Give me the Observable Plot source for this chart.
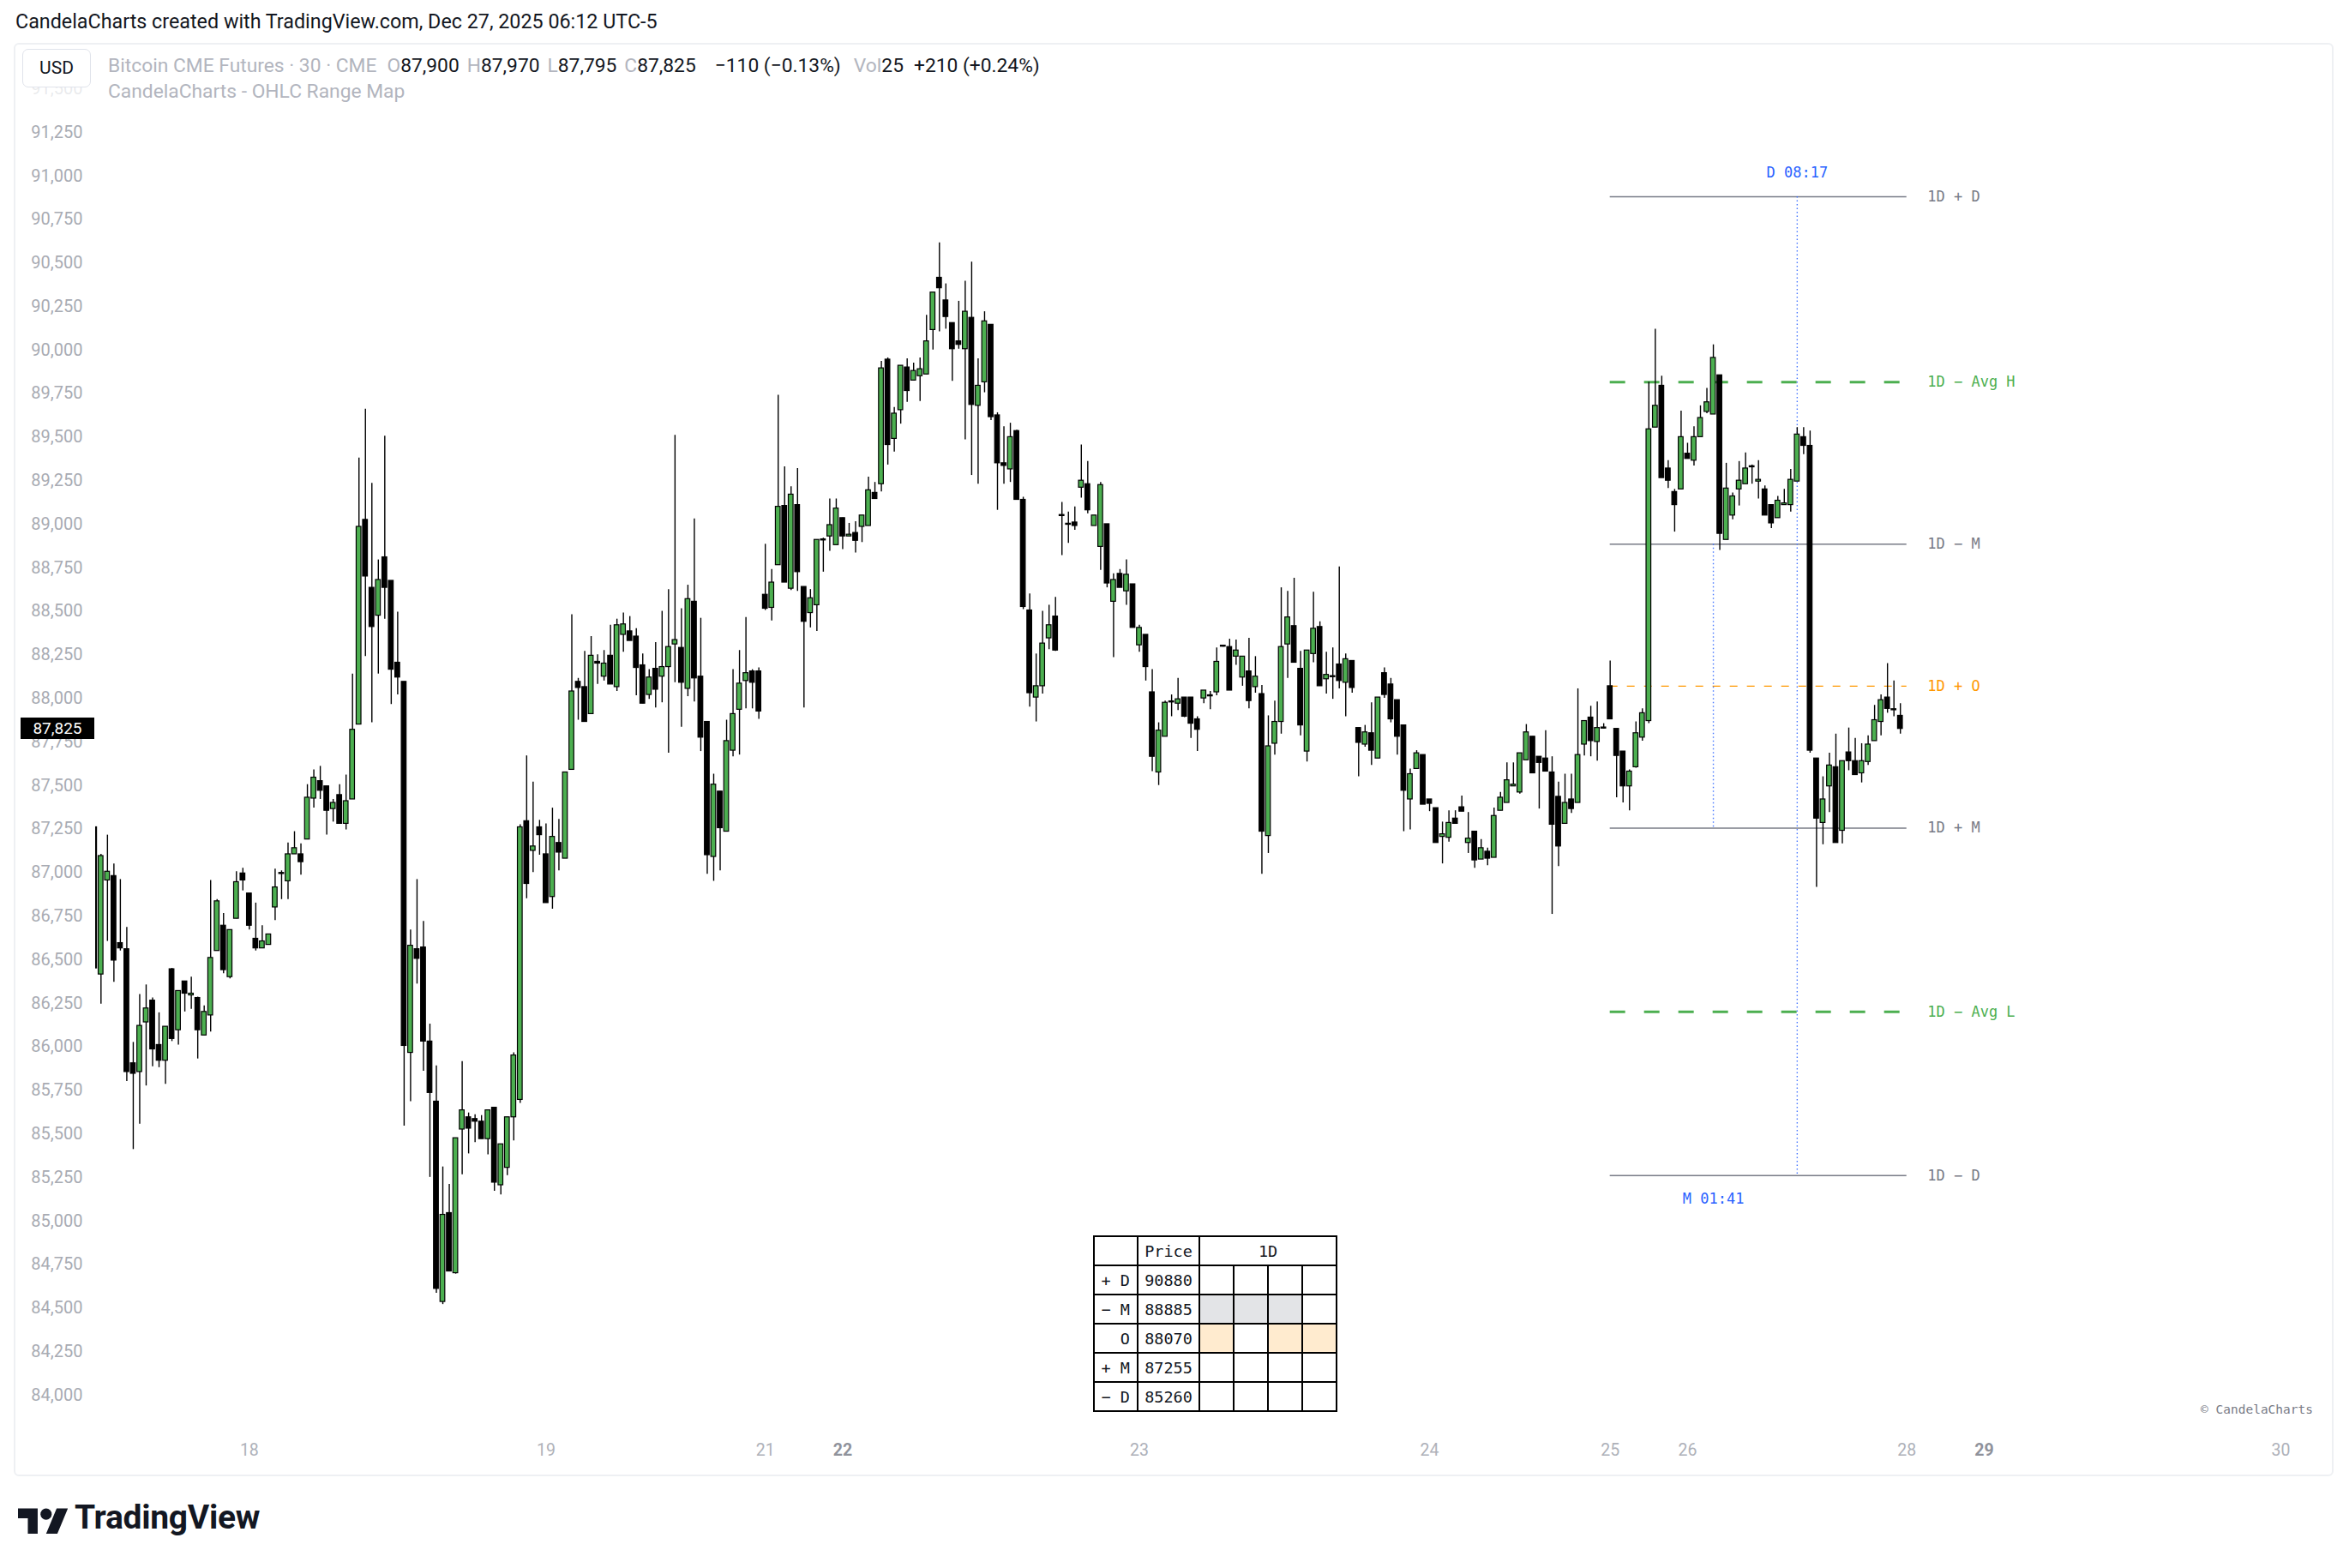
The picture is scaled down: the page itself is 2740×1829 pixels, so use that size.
<!DOCTYPE html>
<html><head><meta charset="utf-8">
<script src="https://cdn.jsdelivr.net/npm/d3@7"></script>
<script src="https://cdn.jsdelivr.net/npm/@observablehq/plot@0.6"></script>
<style>
html,body{margin:0;padding:0;background:#fff;}
#page{position:relative;width:2740px;height:1829px;overflow:hidden;font-family:Roboto,"Liberation Sans",sans-serif;color:#131722;}
#title{position:absolute;left:18px;top:12px;font-size:23.3px;line-height:27px;white-space:nowrap;}
#pane{position:absolute;left:16px;top:50px;width:2702px;height:1668px;border:2px solid #eef0f3;border-radius:6px;}
#chart{position:absolute;left:0;top:0;}
#usd{position:absolute;left:26px;top:57px;width:78px;height:43px;border:1px solid #e0e3eb;border-radius:7px;background:#fff;font-size:21px;line-height:43px;text-align:center;}
#legend{position:absolute;left:126px;top:63px;font-size:22.8px;line-height:28px;white-space:nowrap;}
#legend2{position:absolute;left:126px;top:93px;font-size:22.8px;line-height:28px;white-space:nowrap;color:#b2b5be;}
.g{color:#b2b5be;}
#pricebox{position:absolute;left:24px;width:86px;height:25px;background:#000;color:#fff;font-size:19px;line-height:25px;text-align:center;}
#copy{position:absolute;right:42px;top:1635px;font-family:"DejaVu Sans Mono",monospace;font-size:14.5px;line-height:18px;color:#787b86;}
#tbl{position:absolute;left:1275px;top:1441px;border-collapse:collapse;table-layout:fixed;width:283px;font-family:"DejaVu Sans Mono",monospace;font-size:18.5px;color:#131722;background:#fff;}
#tbl td{border:2px solid #000;height:32px;padding:0;text-align:center;}
#tbl td.lab{text-align:right;padding-right:8px;}
#logo{position:absolute;left:21px;top:1753px;}
#logotext{position:absolute;left:87px;top:1748px;font-size:39px;line-height:44px;font-weight:700;color:#131722;letter-spacing:-0.3px;}
</style></head>
<body><div id="page">
<div id="title">CandelaCharts created with TradingView.com, Dec 27, 2025 06:12 UTC-5</div>
<div id="pane"></div>
<div id="chart"></div>
<div id="usd">USD</div>
<div id="legend"></div>
<div id="legend2">CandelaCharts - OHLC Range Map</div>
<div id="pricebox"></div>
<table id="tbl"></table>
<div id="copy">© CandelaCharts</div>
<svg id="logo" width="59" height="46" viewBox="0 0 36 28"><path d="M14 22H7V11H0V4h14v18zM28 22h-8l7.5-18h8L28 22z" fill="#131722"/><circle cx="20" cy="8" r="4" fill="#131722"/></svg>
<div id="logotext">TradingView</div>
</div>
<script>
// ---- candle data (30-minute bars, index = bar number) ----
const opens = [
87260,86415,86955,86980,86595,86560,85905,85855,86140,86265,
86010,85920,86445,86095,86375,86295,86280,86065,86180,86550,
86695,86400,86735,86995,86880,86620,86565,86585,86800,86995,
86950,87105,87105,87190,87425,87525,87495,87365,87445,87280,
87420,87850,89025,88635,88475,88810,88675,88205,88095,85965,
86560,86570,86030,85685,84535,85045,84700,85525,85595,85585,
85570,85470,85650,85205,85305,85595,85695,87295,87125,87260,
87105,86860,87170,87080,87590,88095,88065,87910,88210,88125,
88245,88065,88365,88385,88355,88190,88020,88170,88125,88180,
88310,88290,88055,88555,88125,87865,87090,87465,87235,87700,
87935,88100,88155,88155,88595,88520,88765,89105,88630,89110,
88640,88490,88535,88910,88930,88880,89035,88930,88950,88985,
88990,89180,89230,89945,89490,89655,89900,89825,89850,89860,
90115,90415,90285,90155,90050,90005,90185,89680,89815,90145,
89625,89350,89315,89535,89140,88505,88005,88070,88345,88470,
89050,89000,89010,89210,89230,88990,88870,89000,88555,88715,
88615,88655,88305,88365,88035,87575,87780,87980,87970,88005,
88005,87880,88000,88015,88035,88300,88295,88240,88120,88155,
88065,88025,87210,87740,87865,88310,88415,88170,87695,88255,
88410,88110,88125,88195,88090,88215,87830,87735,87800,87655,
88145,88080,87990,87845,87420,87595,87675,87420,87370,87205,
87200,87310,87375,87170,87235,87075,87120,87085,87355,87400,
87495,87460,87645,87780,87665,87655,87575,87435,87280,87420,
87400,87735,87890,87750,87830,88070,87825,87695,87495,87605,
87775,87870,89555,89795,89320,89185,89200,89405,89365,89500,
89645,89630,89855,88910,89050,89200,89230,89330,89245,89200,
89110,89035,89110,89110,89245,89500,89450,87655,87285,87495,
87605,87240,87690,87640,87570,87635,87755,87865,88005,87935,87900];
const highs = [
87275,87105,87215,87050,86960,86685,86025,86300,86355,86280,
86195,86115,86450,86320,86375,86400,86285,86235,86955,86845,
86765,86670,87005,87025,86880,86825,86695,86645,87020,87010,
87170,87235,87165,87505,87590,87610,87495,87420,87505,87560,
88140,89380,89660,89235,88795,89505,88675,88495,88095,86670,
86960,86720,86130,85890,85310,85210,85475,85915,85620,85610,
85605,85635,85650,85440,85595,85965,87275,87670,87520,87300,
87280,87370,87305,87575,88480,88115,88270,88355,88250,88275,
88420,88455,88490,88470,88400,88255,88165,88320,88500,88625,
89510,88515,88650,89030,88460,87865,87565,87465,87875,88165,
88275,88465,88165,88175,88885,88740,89740,89330,89215,89320,
88640,88625,88910,88920,89145,89145,89035,89005,89015,89050,
89270,89240,89935,89955,89670,89910,89950,89925,89955,90200,
90330,90615,90380,90155,90280,90395,90505,89950,90220,90145,
89640,89560,89580,89540,89155,88600,88255,88500,88535,88580,
89125,89070,89100,89455,89360,89050,89240,89000,88715,88740,
88795,88655,88420,88365,88165,87860,87985,88020,88115,88005,
88005,87895,88045,88040,88290,88300,88340,88335,88240,88345,
88240,88075,87900,87985,88635,88615,88690,88270,88275,88610,
88440,88265,88290,88755,88255,88215,87830,87845,87975,88005,
88175,88115,87990,87845,87595,87700,87675,87420,87370,87290,
87355,87355,87440,87345,87235,87190,87140,87370,87460,87630,
87630,87685,87850,87780,87665,87815,87665,87520,87565,87565,
88055,87870,87955,87980,87855,88215,87825,87695,87590,87865,
87940,89815,90120,89850,89365,89200,89650,89465,89560,89680,
89780,90030,89855,89350,89180,89360,89410,89340,89365,89220,
89110,89160,89200,89315,89555,89555,89535,87655,87550,87685,
87795,87640,87830,87770,87740,87785,87960,88020,88200,88100,87970];
const lows = [
86420,86245,86605,86370,86550,85800,85410,85555,85775,85885,
85880,85785,86030,86010,86200,86215,85930,86065,86085,86550,
86420,86390,86735,86895,86670,86550,86565,86585,86725,86845,
86845,87105,86985,87190,87370,87420,87215,87290,87280,87245,
87420,87850,88240,87860,88140,88455,87965,88020,85545,85685,
86360,85860,85250,84585,84520,84710,84695,85265,85385,85450,
85470,85380,85170,85150,85260,85460,85675,86850,87000,87100,
86825,86790,87010,87080,87590,87875,87865,87910,88080,88100,
88080,88040,88265,88330,88015,87970,87995,87945,87975,87685,
88090,87835,88010,87980,87695,86990,86950,87010,87235,87665,
87675,87940,87940,87880,88505,88445,88765,88665,88620,88615,
87945,88405,88385,88725,88845,88880,88855,88930,88835,88895,
88990,89145,89185,89340,89415,89575,89700,89825,89705,89860,
90000,90105,90120,89820,90005,89485,89280,89230,89755,89595,
89080,89230,89240,89140,88510,87950,87865,88025,88280,88270,
88820,88890,88965,89150,89060,88990,88735,88635,88235,88635,
88535,88405,88265,88100,87580,87500,87780,87895,87930,87890,
87770,87695,87970,87935,88015,88295,88045,88190,88070,87940,
88030,86990,87110,87675,87795,88115,88205,87785,87635,88205,
88070,88025,87995,88055,87895,88030,87550,87720,87615,87655,
88000,87860,87675,87235,87245,87595,87390,87350,87170,87050,
87175,87280,87350,87110,87025,87075,87040,87085,87355,87400,
87495,87450,87645,87570,87365,87580,86760,87035,87280,87340,
87400,87670,87665,87640,87825,87880,87430,87400,87355,87600,
87755,87855,89555,89265,89205,88955,89200,89375,89335,89500,
89635,89630,88850,88910,89025,89105,89230,89230,89145,89050,
88975,89035,89110,89070,89245,89400,87685,86915,87160,87345,
87170,87165,87585,87560,87515,87615,87755,87785,87915,87895,87795];
const closes = [
86450,87095,87005,86495,86565,85855,85845,86120,86220,85985,
85920,86115,86045,86320,86305,86305,86095,86200,86510,86835,
86440,86670,86945,86955,86695,86565,86605,86645,86915,86995,
87105,87140,87060,87430,87545,87470,87355,87400,87280,87410,
87820,88985,88700,88410,88680,88635,88165,88120,86005,86580,
86505,86030,85735,84610,85035,84710,85475,85635,85530,85570,
85470,85635,85220,85440,85595,85950,87260,86935,87150,87215,
86825,87205,87115,87575,88040,88060,87865,88245,88200,88200,
88080,88420,88425,88330,88175,87970,88120,88050,88180,88295,
88335,88090,88570,88115,87775,87100,87505,87255,87755,87910,
88085,88145,88090,87925,88515,88665,89100,88665,89170,88725,
88440,88575,88910,88910,88995,89090,88930,88940,88905,89050,
89195,89145,89895,89455,89635,89910,89765,89880,89890,90050,
90330,90355,90190,90005,90030,90220,89685,89795,90165,89615,
89350,89335,89500,89140,88525,88030,88070,88315,88420,88275,
89050,89000,88990,89250,89080,89050,89225,88660,88680,88635,
88710,88405,88405,88180,87665,87815,87975,87980,87995,87895,
87855,87820,88045,88015,88210,88300,88045,88275,88240,87985,
88125,87235,87725,87865,88295,88465,88205,87845,88275,88400,
88070,88135,88125,88100,88225,88060,87745,87805,87700,88005,
88020,87880,87780,87470,87565,87685,87390,87395,87170,87220,
87285,87280,87350,87195,87070,87140,87080,87325,87430,87530,
87505,87685,87805,87570,87630,87580,87275,87150,87400,87365,
87675,87870,87755,87830,87830,87880,87670,87495,87580,87800,
87915,89545,89680,89265,89250,89110,89500,89375,89500,89610,
89700,89955,88945,89205,89160,89250,89320,89330,89255,89050,
89005,89135,89120,89255,89515,89450,87700,87310,87420,87615,
87170,87640,87640,87560,87640,87735,87875,87990,87940,87935,87825];

// ---- axes ----
const yTicks = [84000,84250,84500,84750,85000,85250,85500,85750,86000,86250,86500,86750,87000,87250,87500,87750,88000,88250,88500,88750,89000,89250,89500,89750,90000,90250,90500,90750,91000,91250];
const yTickHidden = [91500];
const xTickIndex = [24,70,104,116,162,207,235,247,281,293,339];
const xTickText  = ["18","19","21","22","23","24","25","26","28","29","30"];
const xTickBold  = [false,false,false,true,false,false,false,false,false,true,false];

// ---- OHLC Range Map (1D) ----
const rangeNames  = ["1D + D","1D − Avg H","1D − M","1D + O","1D + M","1D − Avg L","1D − D"];
const rangeValues = [90880, 89815, 88885, 88070, 87255, 86200, 85260];
const rangeKind   = ["solid","avg","solid","open","solid","avg","solid"];
const rangeStart = 235, rangeEnd = 281;
const markerText  = ["D 08:17","M 01:41"];
const markerIndex = [264, 251];
const markerFrom  = [90880, 88885];
const markerTo    = [85260, 87255];
const markerLabelAt = [90880, 85260];
const markerSide  = ["above", "below"];

// ---- table ----
const tableRowLabels = ["+ D","− M","O","+ M","− D"];
const tablePrices = [90880, 88885, 88070, 87255, 85260];
const tableFills = [[0,0,0,0],[1,1,1,0],[2,0,2,2],[0,0,0,0],[0,0,0,0]];

// ---- header values ----
const volume = 25, dayChange = 210, dayChangePct = 0.24;

const GREEN = "#4caf50", GRAY = "#787b86", ORANGE = "#ff9800", BLUE = "#2962ff";
const kindColor = {solid: GRAY, avg: GREEN, open: ORANGE};
const fmt = d3.format(",");
const MONO = "DejaVu Sans Mono";

const bars = opens.map((o, i) => ({i, o, h: highs[i], l: lows[i], c: closes[i], up: closes[i] >= o}));
const ranges = rangeNames.map((n, k) => ({name: n, v: rangeValues[k], kind: rangeKind[k]}));
const markers = markerText.map((t, k) => ({t, x: markerIndex[k], y1: markerFrom[k], y2: markerTo[k], ly: markerLabelAt[k], side: markerSide[k]}));
const xt = xTickIndex.map((x, k) => ({x, t: xTickText[k], b: xTickBold[k]}));

function bodyLo(d){ const m=(d.o+d.c)/2; return Math.abs(d.c-d.o)<6 ? m-3 : Math.min(d.o,d.c); }
function bodyHi(d){ const m=(d.o+d.c)/2; return Math.abs(d.c-d.o)<6 ? m+3 : Math.max(d.o,d.c); }

const plot = Plot.plot({
  width: 2740, height: 1829,
  marginLeft: 111, marginRight: 19, marginTop: 55, marginBottom: 169,
  x: {type: "linear", domain: [0.16, 347.1], axis: null},
  y: {type: "linear", domain: [83836.6, 91736.4], axis: null},
  style: {background: "transparent", fontFamily: "Roboto, Liberation Sans, sans-serif", overflow: "visible"},
  marks: [
    // price scale labels
    Plot.text(yTicks, {y: d => d, text: d => fmt(d), frameAnchor: "left", dx: -15, textAnchor: "end", fill: "#a8abb3", fontSize: 20}),
    Plot.text(yTickHidden, {y: d => d, text: d => fmt(d), frameAnchor: "left", dx: -15, textAnchor: "end", fill: "#a8abb3", fillOpacity: 0.25, fontSize: 20}),
    // time scale labels
    Plot.text(xt.filter(d => !d.b), {x: "x", text: "t", frameAnchor: "bottom", dy: 37, fill: "#aeb1b9", fontSize: 19.5}),
    Plot.text(xt.filter(d => d.b), {x: "x", text: "t", frameAnchor: "bottom", dy: 37, fill: "#8f929b", fontWeight: 700, fontSize: 19.5}),
    // range map lines
    Plot.ruleY(ranges.filter(d => d.kind === "solid"), {y: "v", x1: rangeStart, x2: rangeEnd, stroke: GRAY, strokeWidth: 1.5}),
    Plot.ruleY(ranges.filter(d => d.kind === "avg"), {y: "v", x1: rangeStart, x2: rangeEnd, stroke: GREEN, strokeWidth: 3, strokeDasharray: "18,22"}),
    Plot.ruleY(ranges.filter(d => d.kind === "open"), {y: "v", x1: rangeStart, x2: rangeEnd, stroke: ORANGE, strokeWidth: 1.3, strokeDasharray: "9,11"}),
    Plot.ruleX(markers, {x: "x", y1: "y1", y2: "y2", stroke: BLUE, strokeWidth: 1.4, strokeDasharray: "1.5,3", strokeOpacity: 0.85}),
    // candles
    Plot.ruleX(bars, {x: "i", y1: "l", y2: "h", stroke: "#000", strokeWidth: 1.4, clip: true}),
    Plot.rect(bars, {x1: d => d.i - 0.37, x2: d => d.i + 0.37, y1: bodyLo, y2: bodyHi, fill: d => d.up ? GREEN : "#000", stroke: "#000", strokeWidth: 1.2, clip: true}),
    // range labels
    Plot.text(ranges, {x: rangeEnd, y: "v", text: "name", dx: 24, textAnchor: "start", fill: d => kindColor[d.kind], fontFamily: MONO, fontSize: 17}),
    Plot.text(markers.filter(d => d.side === "above"), {x: "x", y: "ly", text: "t", dy: -28, fill: BLUE, fontFamily: MONO, fontSize: 17}),
    Plot.text(markers.filter(d => d.side === "below"), {x: "x", y: "ly", text: "t", dy: 27, fill: BLUE, fontFamily: MONO, fontSize: 17})
  ]
});
document.getElementById("chart").appendChild(plot);

// current price label positioned by the y scale
const last = bars[bars.length - 1];
const py = plot.scale("y").apply(last.c);
const pb = document.getElementById("pricebox");
pb.style.top = (py - 12.5) + "px";
pb.textContent = fmt(last.c);

// legend line
const prev = bars[bars.length - 2].c;
const chg = last.c - prev;
const pct = chg / prev * 100;
const signed = v => (v < 0 ? "−" : "+") + Math.abs(v);
const lg = document.getElementById("legend");
lg.innerHTML =
  `<span class="g">Bitcoin CME Futures · 30 · CME</span>` +
  `<span class="g" style="margin-left:12px">O</span><span>${fmt(last.o)}</span>` +
  `<span class="g" style="margin-left:9px">H</span><span>${fmt(last.h)}</span>` +
  `<span class="g" style="margin-left:9px">L</span><span>${fmt(last.l)}</span>` +
  `<span class="g" style="margin-left:9px">C</span><span>${fmt(last.c)}</span>` +
  `<span style="margin-left:22px">${signed(chg)} (${chg<0?"−":"+"}${Math.abs(pct).toFixed(2)}%)</span>` +
  `<span class="g" style="margin-left:15px">Vol</span><span>${volume}</span>` +
  `<span style="margin-left:12px">+${dayChange} (+${dayChangePct.toFixed(2)}%)</span>`;

// table
const fillColor = ["#ffffff", "#e3e4e7", "#ffebcf"];
const tbl = document.getElementById("tbl");
let html = `<colgroup><col style="width:51px"><col style="width:72px"><col style="width:40px"><col style="width:40px"><col style="width:40px"><col style="width:40px"></colgroup>`;
html += `<tr><td></td><td>Price</td><td colspan="4">1D</td></tr>`;
tableRowLabels.forEach((lab, r) => {
  html += `<tr><td class="lab">${lab}</td><td>${tablePrices[r]}</td>` +
    tableFills[r].map(f => `<td style="background:${fillColor[f]}"></td>`).join("") + `</tr>`;
});
tbl.innerHTML = html;
</script>
</body></html>
